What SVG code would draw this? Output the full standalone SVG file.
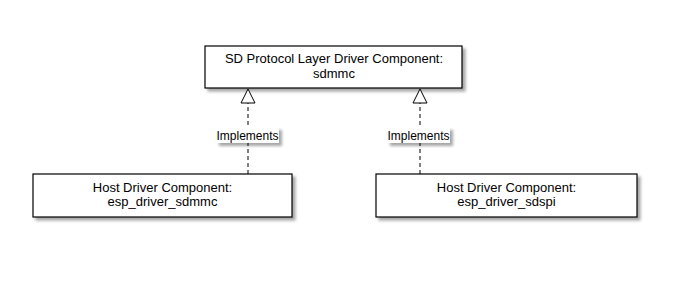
<svg xmlns="http://www.w3.org/2000/svg" width="676" height="282" viewBox="0 0 676 282">
<defs>
<filter id="sh" x="-10%" y="-20%" width="130%" height="150%">
<feGaussianBlur in="SourceAlpha" stdDeviation="1.5"/>
<feOffset dx="3" dy="3" result="b"/>
<feComponentTransfer><feFuncA type="linear" slope="0.35"/></feComponentTransfer>
<feMerge><feMergeNode/><feMergeNode in="SourceGraphic"/></feMerge>
</filter>
</defs>
<style>
.box{fill:#fff;stroke:#000;stroke-width:1.2}
.t{font-family:"Liberation Sans",Arial,sans-serif;font-size:13px;fill:#000;text-anchor:middle}
.lbl{font-family:"Liberation Sans",Arial,sans-serif;font-size:12px;fill:#000;text-anchor:middle}
.dash{stroke:#000;stroke-width:1;stroke-dasharray:4,3;fill:none}
.tri{fill:#fff;stroke:#000;stroke-width:1}
.lb{fill:#fff}
</style>
<g id="sdmmc">
<rect class="box" x="205" y="46" width="257" height="42" filter="url(#sh)"/>
<text class="t" x="334" y="63">SD Protocol Layer Driver Component:</text>
<text class="t" x="334" y="78">sdmmc</text>
</g>
<g id="esp_driver_sdmmc">
<rect class="box" x="33" y="174" width="259" height="43" filter="url(#sh)"/>
<text class="t" x="162.5" y="192">Host Driver Component:</text>
<text class="t" x="162.5" y="206">esp_driver_sdmmc</text>
</g>
<g id="esp_driver_sdspi">
<rect class="box" x="376" y="174" width="261" height="43" filter="url(#sh)"/>
<text class="t" x="506.5" y="192">Host Driver Component:</text>
<text class="t" x="506.5" y="206">esp_driver_sdspi</text>
</g>
<g id="connectors">
<line class="dash" x1="248" y1="174" x2="248" y2="103"/>
<polygon class="tri" points="248,89 241,103 255,103"/>
<rect class="lb" x="216" y="127" width="63" height="16" filter="url(#sh)"/>
<text class="lbl" x="247.5" y="139.5">Implements</text>
<line class="dash" x1="420" y1="174" x2="420" y2="103"/>
<polygon class="tri" points="420,89 413,103 427,103"/>
<rect class="lb" x="387" y="127" width="63" height="16" filter="url(#sh)"/>
<text class="lbl" x="418.5" y="139.5">Implements</text>
</g>
</svg>
